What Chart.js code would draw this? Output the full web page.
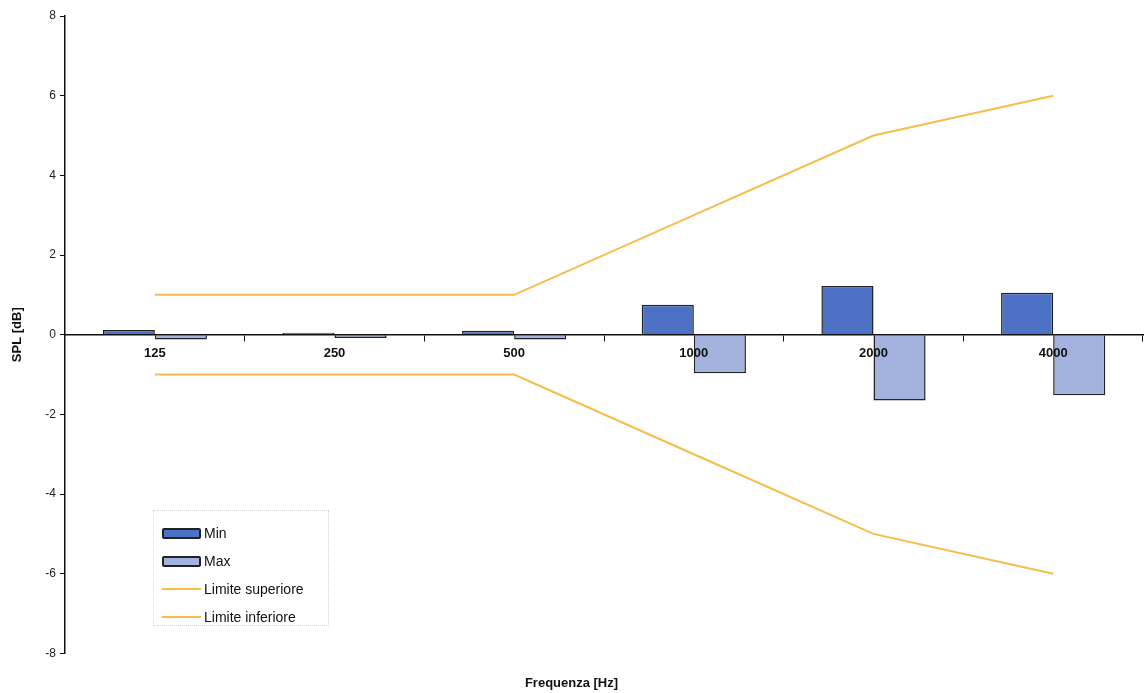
<!DOCTYPE html>
<html>
<head>
<meta charset="utf-8">
<script src="https://cdn.jsdelivr.net/npm/chart.js@4"></script>
<style>
  html, body { margin: 0; padding: 0; background: #fff; }
  #wrap { position: relative; width: 1145px; height: 693px; }
  #legenda {
    position: absolute; left: 153px; top: 510px; width: 176px; height: 116px;
    border: 1px dotted #d4d4d4; box-sizing: border-box; padding-top: 8px;
    font-family: "Liberation Sans", Arial, sans-serif; font-size: 14px; color: #111;
  }
  #legenda .voce { display: flex; align-items: center; height: 28px; padding-left: 8px; }
  #legenda .box { width: 35px; height: 7px; border: 2px solid #222; border-radius: 2px; margin-right: 3px; }
  #legenda .linea { width: 39px; height: 2px; margin-right: 3px; }
</style>
</head>
<body>
<div id="wrap">
  <canvas id="grafico" width="1145" height="693"></canvas>
  <div id="legenda"></div>
</div>
<script>
// dati
const frequenze = ['125', '250', '500', '1000', '2000', '4000'];
const valoriMin = [0.12, 0.05, 0.1, 0.75, 1.22, 1.05];
const valoriMax = [-0.12, -0.08, -0.12, -0.97, -1.65, -1.52];
const limiteSuperiore = [1, 1, 1, 3, 5, 6];
const limiteInferiore = [-1, -1, -1, -3, -5, -6];
const tickY = [-8, -6, -4, -2, 0, 2, 4, 6, 8];

const coloreMin = '#4d72c5';
const coloreMax = '#a3b3de';
const coloreLimite = '#f6bd4a';

window.onload = function () {
  const ctx = document.getElementById('grafico').getContext('2d');
  new Chart(ctx, {
    type: 'bar',
    data: {
      labels: frequenze,
      datasets: [{
        label: 'Min',
        data: valoriMin,
        backgroundColor: coloreMin,
        borderColor: '#222',
        borderWidth: 1.5,
        order: 2
      }, {
        label: 'Max',
        data: valoriMax,
        backgroundColor: coloreMax,
        borderColor: '#222',
        borderWidth: 1.5,
        order: 2
      }, {
        type: 'line',
        label: 'Limite superiore',
        data: limiteSuperiore,
        borderColor: coloreLimite,
        borderWidth: 2,
        pointRadius: 0,
        tension: 0,
        order: 1
      }, {
        type: 'line',
        label: 'Limite inferiore',
        data: limiteInferiore,
        borderColor: coloreLimite,
        borderWidth: 2,
        pointRadius: 0,
        tension: 0,
        order: 1
      }]
    },
    options: {
      responsive: false,
      animation: false,
      layout: { padding: { top: 16, right: 2, left: 0, bottom: 0 } },
      datasets: {
        bar: { categoryPercentage: 0.58, barPercentage: 1.0 }
      },
      plugins: {
        legend: { display: false },
        tooltip: { enabled: false },
        title: {
          display: true,
          position: 'bottom',
          text: 'Frequenza [Hz]',
          color: '#111',
          font: { family: 'Liberation Sans', size: 13, weight: 'bold' },
          padding: { top: 22, bottom: 2 }
        }
      },
      scales: {
        x: {
          position: { y: 0 },
          grid: { drawOnChartArea: false, tickLength: 6, color: '#111', offset: true },
          border: { color: '#111', width: 1.5, z: 1 },
          ticks: {
            z: 1,
            color: '#111',
            padding: 5,
            font: { family: 'Liberation Sans', size: 13, weight: 'bold' }
          }
        },
        y: {
          min: -8,
          max: 8,
          afterFit: function (scale) { scale.width = 65; },
          afterBuildTicks: function (scale) {
            scale.ticks = tickY.map(v => ({ value: v }));
          },
          grid: { drawOnChartArea: false, tickLength: 5, color: '#111' },
          border: { color: '#111', width: 1.5 },
          ticks: {
            color: '#222',
            padding: 4,
            font: { family: 'Liberation Sans', size: 12 }
          },
          title: {
            display: true,
            text: 'SPL [dB]',
            color: '#111',
            font: { family: 'Liberation Sans', size: 13, weight: 'bold' },
            padding: { top: 10, bottom: 0 }
          }
        }
      }
    }
  });

  // legenda dentro l'area del grafico
  const legenda = document.getElementById('legenda');
  const voci = [
    { nome: 'Min', tipo: 'box', colore: coloreMin },
    { nome: 'Max', tipo: 'box', colore: coloreMax },
    { nome: 'Limite superiore', tipo: 'linea', colore: coloreLimite },
    { nome: 'Limite inferiore', tipo: 'linea', colore: coloreLimite }
  ];
  voci.forEach(function (v) {
    const riga = document.createElement('div');
    riga.className = 'voce';
    const segno = document.createElement('span');
    segno.className = v.tipo;
    segno.style.background = v.colore;
    const testo = document.createElement('span');
    testo.textContent = v.nome;
    riga.appendChild(segno);
    riga.appendChild(testo);
    legenda.appendChild(riga);
  });
};
</script>
</body>
</html>
